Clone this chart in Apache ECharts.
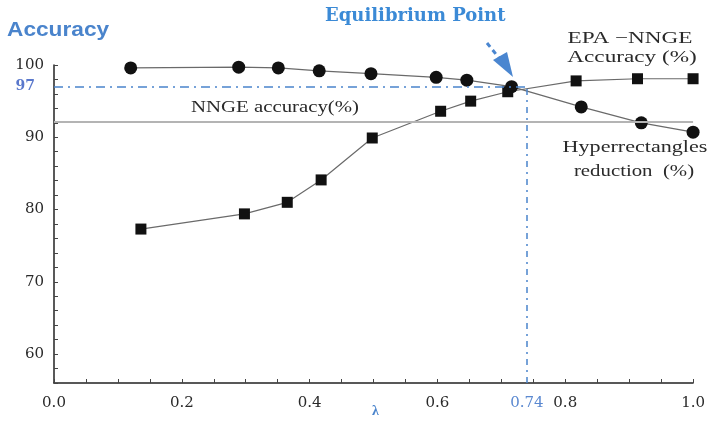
<!DOCTYPE html>
<html><head><meta charset="utf-8">
<script src="https://cdn.jsdelivr.net/npm/echarts@6/dist/echarts.min.js"></script>
<style>html,body{margin:0;padding:0;background:#fff}#c{width:708px;height:428px}</style>
</head><body><div id="c"></div>
<script>
// ---- data ----
const lambdaCircles  = [0.120, 0.289, 0.351, 0.415, 0.496, 0.598, 0.646, 0.716, 0.825, 0.919, 1.0];
const hyperReduction = [99.6, 99.7, 99.6, 99.2, 98.8, 98.3, 97.9, 97.0, 94.2, 92.0, 90.7];
const lambdaSquares  = [0.136, 0.298, 0.365, 0.418, 0.498, 0.605, 0.652, 0.710, 0.817, 0.913, 1.0];
const epaAccuracy    = [77.3, 79.4, 81.0, 84.1, 89.9, 93.6, 95.0, 96.3, 97.8, 98.1, 98.1];
const nngeAccuracy = 92.1;
const equilibriumLambda = 0.74;
const equilibriumAccuracy = 97;
const xTickLabels = ['0.0', '0.2', '0.4', '0.6', '0.8', '1.0'];
const yTickLabels = ['60', '70', '80', '90', '100'];

const BLUE = '#4a84cc';
const TXT = '#2a2a2a';
const SERIF = '"Liberation Serif","DejaVu Serif",serif';
const WSERIF = '"DejaVu Serif","Liberation Serif",serif';

const chart = echarts.init(document.getElementById('c'), null, {renderer: 'canvas'});
const zip = (xs, ys) => xs.map((x, i) => [x, ys[i]]);
const stretched = (x, y, text, font, sx) => ({
  type: 'text', x: x, y: y, scaleX: sx,
  style: {text: text, fill: TXT, font: font, textAlign: 'center', textVerticalAlign: 'bottom'}
});

chart.setOption({
  animation: false,
  backgroundColor: '#fff',
  grid: {left: 54, right: 13, top: 65, bottom: 45, containLabel: false},
  xAxis: {
    type: 'value', min: 0, max: 1, interval: 0.05,
    axisLine: {lineStyle: {color: '#222', width: 1.5}},
    axisTick: {inside: true, length: 4, lineStyle: {color: '#444'}},
    splitLine: {show: false},
    axisLabel: {
      margin: 13, color: TXT, fontFamily: WSERIF, fontSize: 15,
      formatter: v => {
        const s = v.toFixed(1);
        return (Math.abs(v * 5 - Math.round(v * 5)) < 1e-6 && xTickLabels.includes(s)) ? s : '';
      }
    }
  },
  yAxis: {
    type: 'value', min: 56, max: 100, interval: 2,
    axisLine: {show: true, lineStyle: {color: '#222', width: 1.5}},
    axisTick: {show: true, inside: true, length: 4, lineStyle: {color: '#444'}},
    splitLine: {show: false},
    axisLabel: {
      margin: 10, color: TXT, fontFamily: WSERIF, fontSize: 15,
      formatter: v => {
        const s = String(Math.round(v));
        return (v % 10 === 0 && yTickLabels.includes(s)) ? s : '';
      }
    }
  },
  series: [
    {
      name: 'Hyperrectangles reduction (%)', type: 'line',
      data: zip(lambdaCircles, hyperReduction),
      symbol: 'circle', symbolSize: 13,
      itemStyle: {color: '#111'},
      lineStyle: {color: '#6a6a6a', width: 1.2},
      z: 4,
      markLine: {
        silent: true, symbol: 'none', animation: false,
        data: [
          {yAxis: nngeAccuracy, lineStyle: {color: '#b4b4b4', width: 2, type: 'solid'}, label: {show: false}},
          [
            {coord: [0, equilibriumAccuracy],
             lineStyle: {color: BLUE, width: 1.5, type: [9, 5, 2, 5]},
             label: {show: true, position: 'start', formatter: String(equilibriumAccuracy), color: '#5a78cc', fontFamily: WSERIF, fontSize: 14, fontWeight: 'bold', distance: 19}},
            {coord: [equilibriumLambda, equilibriumAccuracy]}
          ],
          [
            {coord: [equilibriumLambda, 56],
             lineStyle: {color: BLUE, width: 1.5, type: [6, 5, 2, 5]},
             label: {show: true, position: 'start', formatter: String(equilibriumLambda), color: '#5a88d0', fontFamily: WSERIF, fontSize: 15, distance: 13}},
            {coord: [equilibriumLambda, equilibriumAccuracy]}
          ]
        ]
      }
    },
    {
      name: 'EPA-NNGE Accuracy (%)', type: 'line',
      data: zip(lambdaSquares, epaAccuracy),
      symbol: 'rect', symbolSize: 11,
      itemStyle: {color: '#111'},
      lineStyle: {color: '#6a6a6a', width: 1.2},
      z: 4
    }
  ],
  graphic: [
    {type: 'text', x: 7, y: 20, scaleX: 1.08, style: {text: 'Accuracy', fill: BLUE, font: 'bold 21px "Liberation Sans","Open Sans",sans-serif'}},
    {type: 'text', x: 325, y: 7, style: {text: 'Equilibrium Point', fill: '#3b8ad6', font: 'bold 18px ' + WSERIF}},
    {type: 'line', shape: {x1: 487, y1: 43, x2: 499, y2: 58}, style: {stroke: '#4a86d0', lineWidth: 3, lineDash: [5, 4]}},
    {type: 'polygon', shape: {points: [[493, 60], [507, 52], [513, 77]]}, style: {fill: '#4a86d0'}},
    stretched(630, 47, 'EPA \u2212NNGE', '16px ' + SERIF, 1.45),
    stretched(632, 66, 'Accuracy (%)', '16px ' + SERIF, 1.45),
    stretched(635, 156, 'Hyperrectangles', '17px ' + SERIF, 1.3),
    stretched(634, 180, 'reduction  (%)', '16px ' + SERIF, 1.3),
    stretched(275, 116, 'NNGE accuracy(%)', '16px ' + SERIF, 1.3),
    {type: 'text', x: 372, y: 404, style: {text: '\u03bb', fill: BLUE, font: 'bold 14px ' + SERIF}}
  ]
});
</script></body></html>
